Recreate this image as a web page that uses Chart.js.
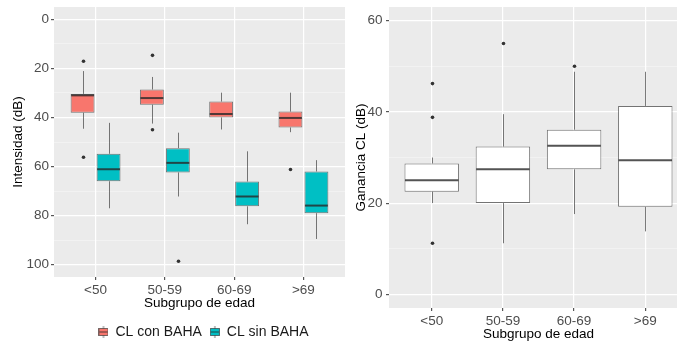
<!DOCTYPE html>
<html>
<head>
<meta charset="utf-8">
<script src="https://cdn.jsdelivr.net/npm/chart.js@4/dist/chart.umd.min.js"></script>
<style>
  body { margin: 0; background: #fff; }
  #lienzo { position: relative; width: 677px; height: 341px; overflow: hidden; background: #fff; }
  #caja_izq { position: absolute; left: 0; top: 0; width: 345px; height: 350px; }
  #caja_der { position: absolute; left: 345px; top: 0; width: 343px; height: 350px; }
</style>
</head>
<body>
<div id="lienzo">
  <div id="caja_izq"><canvas id="intensidad"></canvas></div>
  <div id="caja_der"><canvas id="ganancia"></canvas></div>
</div>
<script>
var edades = ["<50", "50-59", "60-69", ">69"];

// Intensidad (dB) - CL con BAHA
var con_min = [21.1, 23.5, 29.9, 29.9];
var con_q1 = [30.4, 28.6, 33.5, 37.6];
var con_med = [31.0, 32.1, 38.6, 40.2];
var con_q3 = [38.1, 34.8, 40.0, 44.1];
var con_max = [44.6, 42.5, 44.9, 46.0];
var con_atip = [[17.1, 56.2], [14.7, 45.0], [], [61.2]];

// Intensidad (dB) - CL sin BAHA
var sin_min = [42.2, 46.2, 53.8, 57.4];
var sin_q1 = [54.8, 52.5, 66.1, 62.0];
var sin_med = [61.1, 58.5, 72.2, 75.9];
var sin_q3 = [66.0, 62.4, 76.2, 79.0];
var sin_max = [77.0, 72.2, 83.5, 89.5];
var sin_atip = [[], [98.6], [], []];

// Ganancia CL (dB)
var gan_min = [20.0, 11.2, 17.6, 13.8];
var gan_q1 = [22.5, 20.0, 27.4, 19.2];
var gan_med = [25.0, 27.4, 32.6, 29.4];
var gan_q3 = [28.7, 32.4, 36.1, 41.3];
var gan_max = [30.0, 39.5, 48.8, 48.8];
var gan_atip = [[46.2, 38.8, 11.2], [55.0], [50.0], []];

var ticks_intensidad = [0, 10, 20, 30, 40, 50, 60, 70, 80, 90, 100];
var ticks_ganancia = [0, 10, 20, 30, 40, 50, 60];

Chart.defaults.font.family = "'Liberation Sans', Arial, sans-serif";
Chart.defaults.animation = false;

var ROJO = "#F8766D";
var CIAN = "#00BFC4";
var BORDE = "rgba(51,51,51,0.65)";

function cajas(q1, q3) {
    var datos = [];
    for (var i = 0; i < q1.length; i++) {
        datos.push({ x: i, y: [q1[i], q3[i]] });
    }
    return datos;
}

// fondo gris del panel
var fondo_gris = {
    id: "fondo_gris",
    beforeDraw: function(chart) {
        var a = chart.chartArea;
        var ctx = chart.ctx;
        ctx.save();
        ctx.fillStyle = "#EBEBEB";
        ctx.fillRect(a.left, a.top, a.right - a.left, a.bottom - a.top);
        ctx.restore();
    }
};

// la leyenda va algo a la derecha del centro del panel
var mover_leyenda = {
    id: "mover_leyenda",
    afterLayout: function(chart) {
        if (chart.legend) {
            chart.legend.left += 4;
            chart.legend.right += 4;
        }
    }
};

// bigotes, mediana y atipicos encima de cada caja
var bigotes = {
    id: "bigotes",
    afterDatasetsDraw: function(chart) {
        var ctx = chart.ctx;
        var y = chart.scales.y;
        chart.data.datasets.forEach(function(ds, d) {
            var meta = chart.getDatasetMeta(d);
            meta.data.forEach(function(barra, i) {
                var x = Math.round(barra.x) + 0.5;
                var mitad = barra.width / 2;
                ctx.save();
                ctx.strokeStyle = BORDE;
                ctx.lineWidth = 1;
                ctx.beginPath();
                ctx.moveTo(x, y.getPixelForValue(ds.minimos[i]));
                ctx.lineTo(x, y.getPixelForValue(ds.data[i].y[0]));
                ctx.moveTo(x, y.getPixelForValue(ds.data[i].y[1]));
                ctx.lineTo(x, y.getPixelForValue(ds.maximos[i]));
                ctx.stroke();

                var ym = y.getPixelForValue(ds.medianas[i]);
                ctx.strokeStyle = "rgba(40,40,40,0.8)";
                ctx.lineWidth = 2;
                ctx.beginPath();
                ctx.moveTo(barra.x - mitad + 0.5, ym);
                ctx.lineTo(barra.x + mitad - 0.5, ym);
                ctx.stroke();

                ctx.fillStyle = "#333333";
                ds.atipicos[i].forEach(function(v) {
                    ctx.beginPath();
                    ctx.arc(x, y.getPixelForValue(v), 1.8, 0, 2 * Math.PI);
                    ctx.fill();
                });
                ctx.restore();
            });
        });
    }
};

// simbolo de la leyenda: cajita con mediana
function llave(color) {
    var c = document.createElement("canvas");
    c.width = 10;
    c.height = 12;
    var g = c.getContext("2d");
    g.strokeStyle = BORDE;
    g.lineWidth = 1;
    g.beginPath();
    g.moveTo(5, 0);
    g.lineTo(5, 12);
    g.stroke();
    g.fillStyle = color;
    g.fillRect(0.5, 2.5, 9, 7);
    g.strokeRect(0.5, 2.5, 9, 7);
    g.strokeStyle = "rgba(40,40,40,0.8)";
    g.beginPath();
    g.moveTo(1, 6);
    g.lineTo(9, 6);
    g.stroke();
    return c;
}

function eje_x(titulo_padding) {
    return {
        type: "linear",
        min: -0.6,
        max: 3.6,
        offset: false,
        afterBuildTicks: function(scale) {
            scale.ticks = edades.map(function(e, i) { return { value: i }; });
        },
        afterFit: function(scale) {
            scale.height = 40;
            scale.paddingLeft = 0;
            scale.paddingRight = 0;
        },
        border: { display: false },
        grid: { offset: false, color: "#FFFFFF", lineWidth: 1.2, tickLength: 3, tickColor: "#555555" },
        ticks: {
            autoSkip: false,
            maxRotation: 0,
            padding: 2,
            color: "#4D4D4D",
            font: { size: 13.5 },
            callback: function(v) { return edades[v]; }
        },
        title: {
            display: true,
            text: "Subgrupo de edad",
            color: "#000000",
            font: { size: 13.5 },
            padding: { top: 0, bottom: titulo_padding }
        }
    };
}

function eje_y(lista, min, max, reverso, ancho, titulo, pad_ticks, pad_titulo) {
    return {
        type: "linear",
        reverse: reverso,
        min: min,
        max: max,
        afterBuildTicks: function(scale) {
            scale.ticks = lista.map(function(v) { return { value: v }; });
        },
        afterFit: function(scale) {
            scale.width = ancho;
            scale.paddingTop = 0;
            scale.paddingBottom = 0;
        },
        border: { display: false },
        grid: {
            tickLength: 3,
            color: function(c) { return c.tick.value % 20 === 0 ? "#FFFFFF" : "rgba(255,255,255,0.55)"; },
            lineWidth: function(c) { return c.tick.value % 20 === 0 ? 1.2 : 0.7; },
            tickColor: function(c) { return c.tick.value % 20 === 0 ? "#555555" : "rgba(0,0,0,0)"; }
        },
        ticks: {
            autoSkip: false,
            padding: pad_ticks,
            color: "#4D4D4D",
            font: { size: 13.5 },
            callback: function(v) { return v % 20 === 0 ? v : ""; }
        },
        title: {
            display: true,
            text: titulo,
            color: "#000000",
            font: { size: 13.5 },
            padding: { top: pad_titulo, bottom: 0 }
        }
    };
}

var ctx = document.getElementById("intensidad").getContext("2d");
var grafico_intensidad = new Chart(ctx, {
    type: "bar",
    data: {
        datasets: [
            {
                label: "CL con BAHA",
                data: cajas(con_q1, con_q3),
                minimos: con_min,
                maximos: con_max,
                medianas: con_med,
                atipicos: con_atip,
                backgroundColor: ROJO,
                borderColor: BORDE,
                borderWidth: 1,
                borderSkipped: false,
                categoryPercentage: 0.75,
                barPercentage: 0.92
            },
            {
                label: "CL sin BAHA",
                data: cajas(sin_q1, sin_q3),
                minimos: sin_min,
                maximos: sin_max,
                medianas: sin_med,
                atipicos: sin_atip,
                backgroundColor: CIAN,
                borderColor: BORDE,
                borderWidth: 1,
                borderSkipped: false,
                categoryPercentage: 0.75,
                barPercentage: 0.92
            }
        ]
    },
    options: {
        responsive: true,
        maintainAspectRatio: false,
        events: [],
        layout: { padding: { top: 7, bottom: 1, left: 0, right: 0 } },
        scales: {
            x: eje_x(6),
            y: eje_y(ticks_intensidad, -5, 105, true, 54, "Intensidad (dB)", 2, 10)
        },
        plugins: {
            tooltip: { enabled: false },
            legend: {
                position: "bottom",
                fullSize: false,
                labels: {
                    usePointStyle: true,
                    boxWidth: 10,
                    padding: 8,
                    color: "#1A1A1A",
                    font: { size: 14 },
                    generateLabels: function(chart) {
                        return chart.data.datasets.map(function(ds, i) {
                            return {
                                text: ds.label,
                                datasetIndex: i,
                                pointStyle: llave(ds.backgroundColor),
                                fillStyle: ds.backgroundColor,
                                strokeStyle: "rgba(0,0,0,0)",
                                lineWidth: 0,
                                fontColor: "#1A1A1A",
                                hidden: false
                            };
                        });
                    }
                }
            }
        }
    },
    plugins: [fondo_gris, bigotes, mover_leyenda]
});

var ctx2 = document.getElementById("ganancia").getContext("2d");
var grafico_ganancia = new Chart(ctx2, {
    type: "bar",
    data: {
        datasets: [
            {
                label: "Ganancia CL",
                data: cajas(gan_q1, gan_q3),
                minimos: gan_min,
                maximos: gan_max,
                medianas: gan_med,
                atipicos: gan_atip,
                backgroundColor: "#FFFFFF",
                borderColor: BORDE,
                borderWidth: 1,
                borderSkipped: false,
                categoryPercentage: 0.85,
                barPercentage: 0.9
            }
        ]
    },
    options: {
        responsive: true,
        maintainAspectRatio: false,
        events: [],
        layout: { padding: { top: 7, bottom: 2, left: 0, right: 0 } },
        scales: {
            x: eje_x(6),
            y: eje_y(ticks_ganancia, -3, 63, false, 44, "Ganancia CL (dB)", 3.5, 8)
        },
        plugins: {
            tooltip: { enabled: false },
            legend: { display: false }
        }
    },
    plugins: [fondo_gris, bigotes]
});
</script>
</body>
</html>
